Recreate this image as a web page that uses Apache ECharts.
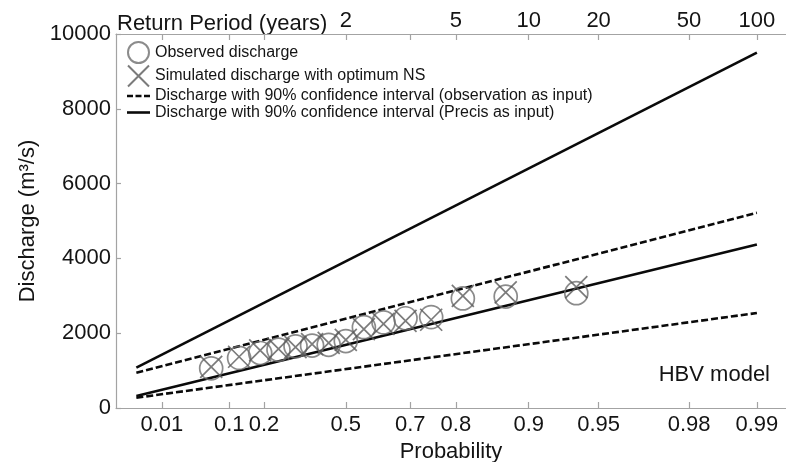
<!DOCTYPE html>
<html>
<head>
<meta charset="utf-8">
<script src="https://cdn.jsdelivr.net/npm/echarts@6/dist/echarts.min.js"></script>
<style>
  html, body { margin: 0; padding: 0; background: #fff; }
  #chart { width: 786px; height: 462px; }
</style>
</head>
<body>
<div id="chart"></div>
<script>
// Probability tick labels along the bottom (Gumbel probability paper)
const probTicks = [0.01, 0.1, 0.2, 0.5, 0.7, 0.8, 0.9, 0.95, 0.98, 0.99];
const probLabels = ['0.01', '0.1', '0.2', '0.5', '0.7', '0.8', '0.9', '0.95', '0.98', '0.99'];
// Return periods marked along the top
const returnPeriods = [2, 5, 10, 20, 50, 100];

// Plotting positions (non-exceedance probability) of the 15 ranked annual maxima
const plotProb = [0.0625, 0.125, 0.1875, 0.25, 0.3125, 0.375, 0.4375, 0.5,
                  0.5625, 0.625, 0.6875, 0.75, 0.8125, 0.875, 0.9375];
// Observed annual maximum discharge (m3/s), ranked
const observed = [1060, 1340, 1470, 1560, 1650, 1670, 1690, 1790,
                  2160, 2290, 2400, 2430, 2930, 2980, 3070];
// Simulated annual maximum discharge with optimum NS (m3/s), ranked
const simulated = [1100, 1370, 1540, 1580, 1630, 1710, 1740, 1820,
                   2110, 2250, 2330, 2360, 3000, 3090, 3230];

// Confidence-interval lines, given at their two end probabilities
const ciProb = [0.0025, 0.99];
const obsUpper = [944, 5220];    // dashed, observation as input
const obsLower = [275, 2540];
const precisUpper = [1078, 9500]; // solid, Precis as input
const precisLower = [321, 4370];

const NAME_OBS = 'Observed discharge';
const NAME_SIM = 'Simulated discharge with optimum NS';
const NAME_DASH = 'Discharge with 90% confidence interval (observation as input)';
const NAME_SOLID = 'Discharge with 90% confidence interval (Precis as input)';

// Gumbel reduced variate
const gumbel = p => -Math.log(-Math.log(p));

const FONT = 'Liberation Sans, Arial, Helvetica, sans-serif';
const AXIS_GREY = '#a3a3a3';
const TEXT = '#141414';

const tickPos = probTicks.map(gumbel);
const rpPos = returnPeriods.map(T => gumbel(1 - 1 / T));

function nearestIndex(arr, v) {
  let best = 0;
  for (let i = 1; i < arr.length; i++) {
    if (Math.abs(arr[i] - v) < Math.abs(arr[best] - v)) best = i;
  }
  return best;
}

const pairs = (ps, ys) => ps.map((p, i) => [gumbel(p), ys[i]]);

const lineSeries = (name, ys, dashed) => ({
  type: 'line',
  name: name,
  data: pairs(ciProb, ys),
  symbol: 'none',
  silent: true,
  lineStyle: { color: '#0a0a0a', width: 2.6, type: dashed ? [7, 3] : 'solid' },
  itemStyle: { color: '#0a0a0a' },
  z: 2
});

// Legend keys for the two line styles: short bars drawn as filled paths
const ICON_DASH = 'path://M0,0h6v2.6h-6z M8.5,0h6v2.6h-6z M17,0h6v2.6h-6z';
const ICON_SOLID = 'path://M0,0h23v2.6h-23z';

const axisLineStyle = { color: AXIS_GREY, width: 1.2 };

const chart = echarts.init(document.getElementById('chart'), null, { renderer: 'canvas' });

chart.setOption({
  animation: false,
  backgroundColor: '#fff',
  textStyle: { fontFamily: FONT },
  grid: { left: 116, right: 0, top: 34, bottom: 54, containLabel: false, outerBoundsMode: 'none' },
  legend: {
    orient: 'vertical',
    left: 127,
    top: 41,
    padding: 0,
    itemWidth: 23,
    itemHeight: 21,
    itemGap: 0.5,
    selectedMode: false,
    textStyle: { fontSize: 16, color: TEXT, fontFamily: FONT },
    data: [
      { name: NAME_OBS },
      { name: NAME_SIM },
      { name: NAME_DASH, icon: ICON_DASH, itemStyle: { color: '#0a0a0a' } },
      { name: NAME_SOLID, icon: ICON_SOLID, itemStyle: { color: '#0a0a0a' } }
    ]
  },
  xAxis: [
    {
      type: 'value',
      position: 'bottom',
      min: -2,
      max: 4.9,
      splitLine: { show: false },
      axisLine: { show: true, onZero: false, lineStyle: axisLineStyle },
      axisTick: { show: true, inside: true, length: 6, customValues: tickPos, lineStyle: axisLineStyle },
      axisLabel: {
        customValues: tickPos,
        margin: 6,
        fontSize: 22,
        color: TEXT,
        fontFamily: FONT,
        formatter: v => probLabels[nearestIndex(tickPos, v)]
      },
      name: 'Probability',
      nameLocation: 'middle',
      nameGap: 26,
      nameTextStyle: { fontSize: 22, color: TEXT, fontFamily: FONT }
    },
    {
      type: 'value',
      position: 'top',
      min: -2,
      max: 4.9,
      splitLine: { show: false },
      axisLine: { show: true, onZero: false, lineStyle: axisLineStyle },
      axisTick: { show: true, inside: true, length: 6, customValues: tickPos, lineStyle: axisLineStyle },
      axisLabel: {
        customValues: rpPos,
        margin: 2,
        fontSize: 22,
        color: TEXT,
        fontFamily: FONT,
        formatter: v => String(returnPeriods[nearestIndex(rpPos, v)])
      }
    }
  ],
  yAxis: {
    type: 'value',
    min: 0,
    max: 10000,
    interval: 2000,
    splitLine: { show: false },
    axisLine: { show: true, onZero: false, lineStyle: axisLineStyle },
    axisTick: { show: true, inside: true, length: 5, lineStyle: axisLineStyle },
    axisLabel: { margin: 5, fontSize: 22, color: TEXT, fontFamily: FONT, formatter: v => String(v) },
    name: 'Discharge (m³/s)',
    nameLocation: 'middle',
    nameGap: 59,
    nameTextStyle: { fontSize: 22, color: TEXT, fontFamily: FONT }
  },
  graphic: [
    {
      type: 'text',
      left: 117,
      top: 13,
      style: { text: 'Return Period (years)', fontSize: 22, fill: TEXT, fontFamily: FONT }
    },
    {
      type: 'text',
      right: 16,
      top: 364,
      style: { text: 'HBV model', fontSize: 22, fill: TEXT, fontFamily: FONT }
    }
  ],
  series: [
    {
      type: 'scatter',
      name: NAME_OBS,
      data: pairs(plotProb, observed),
      symbol: 'circle',
      symbolSize: 23,
      silent: true,
      itemStyle: { color: 'rgba(0,0,0,0)', borderColor: '#6e6e6e', borderWidth: 1.7 },
      z: 3
    },
    {
      type: 'scatter',
      name: NAME_SIM,
      data: pairs(plotProb, simulated),
      symbol: 'path://M0,0L10,10M10,0L0,10',
      symbolSize: 22,
      symbolKeepAspect: true,
      silent: true,
      itemStyle: { color: 'rgba(0,0,0,0)', borderColor: '#5a5a5a', borderWidth: 1.7 },
      z: 4
    },
    lineSeries(NAME_DASH, obsUpper, true),
    lineSeries(NAME_DASH, obsLower, true),
    lineSeries(NAME_SOLID, precisUpper, false),
    lineSeries(NAME_SOLID, precisLower, false)
  ]
});
</script>
</body>
</html>
